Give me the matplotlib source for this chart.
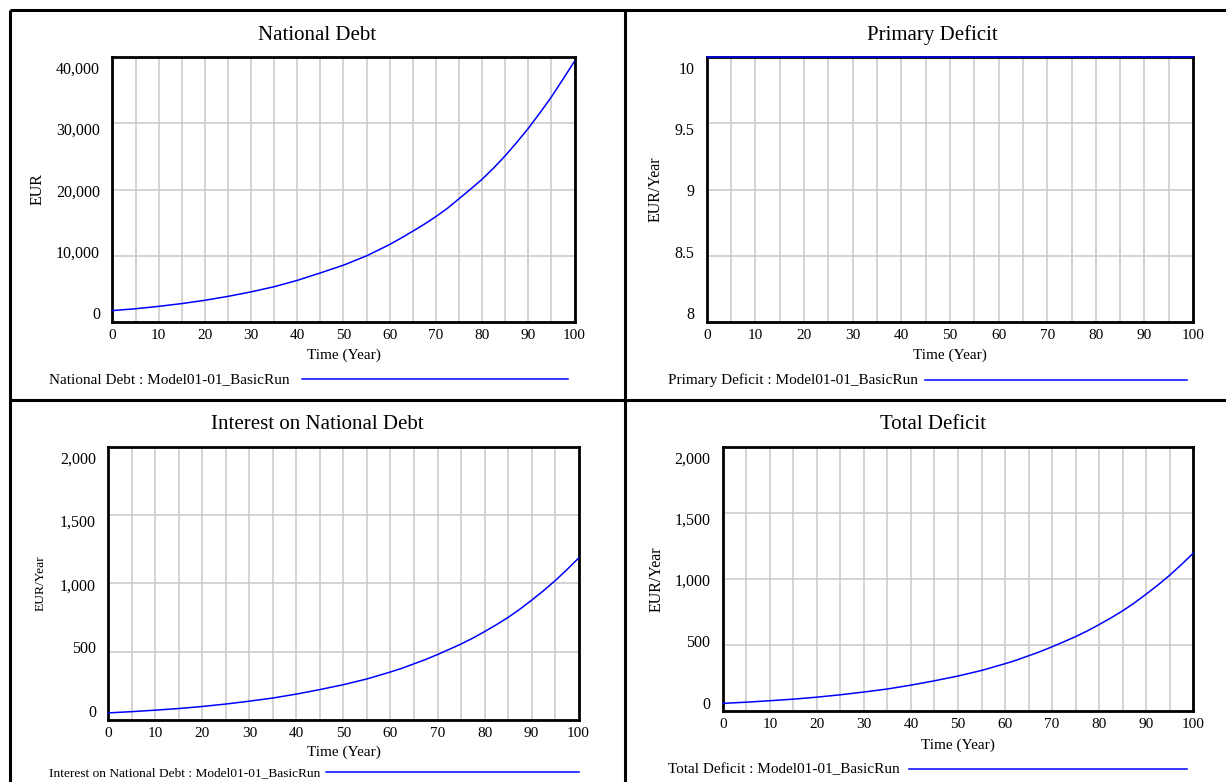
import matplotlib
matplotlib.use("Agg")
import matplotlib.pyplot as plt
from matplotlib.lines import Line2D
from matplotlib.transforms import ScaledTranslation

# ---------------- data ----------------
years = [0, 5, 10, 15, 20, 25, 30, 35, 40, 45, 50, 55,
         60, 62.5, 65, 67.5, 70, 72.5, 75, 77.5, 80, 82.5, 85, 87.5, 90, 92.5, 95, 97.5, 100]
national_debt = [1680, 1960, 2320, 2740, 3240, 3830, 4510, 5290, 6250, 7380, 8550, 9960,
                 11680, 12660, 13690, 14750, 15900, 17150, 18600, 20050, 21550, 23250,
                 25100, 27120, 29250, 31580, 34000, 36680, 39400]
primary_deficit = [10, 10, 10, 10, 10, 10, 10, 10, 10, 10, 10, 10,
                   10, 10, 10, 10, 10, 10, 10, 10, 10, 10, 10, 10, 10, 10, 10, 10, 10]
interest_on_debt = [50, 59, 70, 82, 97, 115, 136, 159, 188, 221, 257, 299,
                    350, 378, 410, 442, 478, 516, 555, 598, 646, 696,
                    750, 810, 876, 945, 1019, 1100, 1185]
total_deficit = [60, 69, 80, 92, 107, 125, 146, 169, 198, 231, 267, 309,
                 360, 388, 420, 452, 488, 526, 565, 608, 656, 706,
                 760, 820, 886, 955, 1029, 1110, 1195]

run_name = "Model01-01_BasicRun"
titles = ["National Debt", "Primary Deficit", "Interest on National Debt", "Total Deficit"]
units = ["EUR", "EUR/Year", "EUR/Year", "EUR/Year"]
series = [national_debt, primary_deficit, interest_on_debt, total_deficit]
y_ranges = [(0, 40000), (8, 10), (0, 2000), (0, 2000)]
y_ticks = [[0, 10000, 20000, 30000, 40000],
           [8, 8.5, 9, 9.5, 10],
           [0, 500, 1000, 1500, 2000],
           [0, 500, 1000, 1500, 2000]]
x_ticks = [0, 10, 20, 30, 40, 50, 60, 70, 80, 90, 100]
x_grid = [0, 5, 10, 15, 20, 25, 30, 35, 40, 45, 50, 55, 60, 65, 70, 75, 80, 85, 90, 95, 100]
x_label = "Time (Year)"

# ---------------- layout (pixels) ----------------
W, H = 1226, 782
plt.rcParams["font.family"] = ["Liberation Serif", "DejaVu Serif"]

fig = plt.figure(figsize=(W / 100, H / 100), dpi=100)
fig.patch.set_facecolor("white")


def fx(px):
    return px / W


def fy(py):
    return 1 - py / H


layout = [
    dict(ax=(112.4, 57.3, 574.5, 321.7), title=(317.5, 35.5), ylab_x=37.8, xlab_y=355,
         leg_text=(48.9, 380), leg_line=(302.2, 568, 379), ylab_fs=11.5, leg_fs=11),
    dict(ax=(706.8, 57.3, 1193.1, 322.0), title=(932.5, 35.5), ylab_x=656.0, xlab_y=355.5,
         leg_text=(667.7, 380), leg_line=(924.6, 1186.9, 379.5), ylab_fs=11.5, leg_fs=11),
    dict(ax=(108.3, 447.0, 578.6, 719.7), title=(317.5, 424.3), ylab_x=40.3, xlab_y=752.7,
         leg_text=(48.9, 773.3), leg_line=(326.0, 578.6, 772), ylab_fs=9.7, leg_fs=9.6),
    dict(ax=(722.9, 447.0, 1193.1, 711.3), title=(932.5, 424.3), ylab_x=656.8, xlab_y=745,
         leg_text=(667.7, 769.3), leg_line=(909.3, 1186.5, 768.7), ylab_fs=11.5, leg_fs=11),
]

line_color = "#0000ff"
grid_color = "#c8c8c8"


def fmt(v):
    if float(v).is_integer():
        return f"{v:,.0f}"
    return f"{v:g}"


for i in range(4):
    L, T, R, B = layout[i]["ax"]
    w, h = R - L, B - T
    ax = fig.add_axes([fx(L), fy(B), w / W, h / H])
    ax.set_xlim(0, 100)
    ax.set_ylim(*y_ranges[i])

    # ticks and grid
    ax.set_xticks(x_ticks)
    ax.set_xticks(x_grid, minor=True)
    ax.set_yticks(y_ticks[i])
    ax.set_yticklabels([fmt(v) for v in y_ticks[i]])
    ax.set_xticklabels([str(v) for v in x_ticks])
    ax.grid(True, which="both", axis="x", color=grid_color, linewidth=1.1, zorder=0)
    ax.grid(True, which="major", axis="y", color=grid_color, linewidth=1.1, zorder=0)
    ax.tick_params(axis="both", which="both", length=0)
    ax.tick_params(axis="x", labelsize=11, pad=5)
    ax.tick_params(axis="y", labelsize=11.5, pad=8.9)
    ax.set_axisbelow(True)

    # Vensim-style inward nudging of y tick labels
    y0, y1 = y_ranges[i]
    for v, lab in zip(y_ticks[i], ax.get_yticklabels()):
        f = (v - y0) / (y1 - y0)
        dy_px = (0.033 - 0.072 * f) * h
        lab.set_transform(lab.get_transform() + ScaledTranslation(0, dy_px / 100, fig.dpi_scale_trans))

    for sp in ax.spines.values():
        sp.set_linewidth(2.0)
        sp.set_color("black")
        sp.set_zorder(2.5)

    ax.plot(years, series[i], color=line_color, linewidth=1.1, zorder=3, clip_on=False)

    # title centred on the panel
    tx, ty = layout[i]["title"]
    ax.set_title(titles[i], x=(tx - L) / w, y=(B - ty) / h, va="center", ha="center",
                 fontsize=15, pad=0)

    # axis labels
    ax.set_xlabel(x_label, fontsize=11, va="center", ha="center")
    ax.xaxis.set_label_coords(0.5, (B - layout[i]["xlab_y"]) / h)
    ax.set_ylabel(units[i], fontsize=layout[i]["ylab_fs"], va="center", ha="center",
                  rotation=90, rotation_mode="default")
    ax.yaxis.set_label_coords((layout[i]["ylab_x"] - L) / w, 0.5)

    # legend: name + run, then a line sample
    lx, ly = layout[i]["leg_text"]
    fig.text(fx(lx), fy(ly), f"{titles[i]} : {run_name}", fontsize=layout[i]["leg_fs"],
             ha="left", va="center")
    x0, x1, yl = layout[i]["leg_line"]
    fig.add_artist(Line2D([fx(x0), fx(x1)], [fy(yl), fy(yl)], color=line_color,
                          linewidth=1.1, transform=fig.transFigure))

# panel frame / dividers
for (xa, ya, xb, yb) in [(10, 10, 10, H + 5), (10, 10, W + 5, 10), (625, 10, 625, H + 5),
                         (10, 400, W + 5, 400)]:
    fig.add_artist(Line2D([fx(xa), fx(xb)], [fy(ya), fy(yb)], color="black",
                          linewidth=2.2, transform=fig.transFigure, solid_capstyle="butt"))

fig.savefig("out.png", dpi=100, facecolor="white")
